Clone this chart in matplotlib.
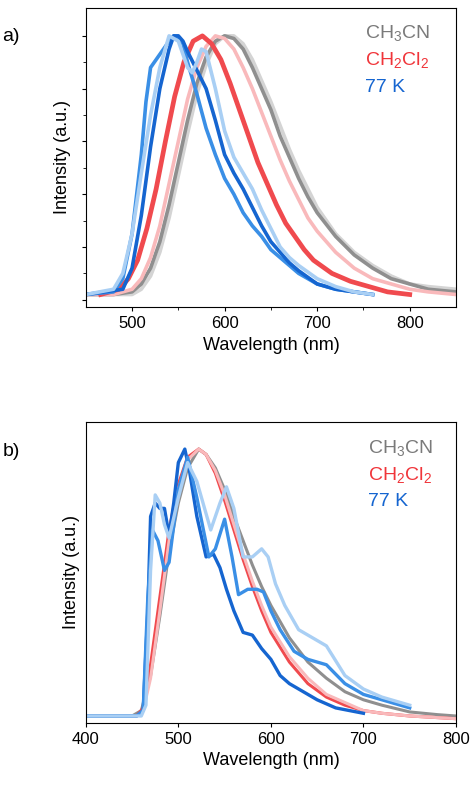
import matplotlib
matplotlib.use("Agg")
import matplotlib.pyplot as plt
plt.rcParams['font.family'] = ['Liberation Sans', 'DejaVu Sans']
plt.rcParams['mathtext.fontset'] = 'custom'
plt.rcParams['mathtext.rm'] = 'Liberation Sans'
plt.rcParams['mathtext.it'] = 'Liberation Sans'

# ---------- panel a data ----------
a_gray_x = [450,480,500,510,520,530,540,550,560,570,580,590,600,610,620,630,640,650,660,670,680,690,700,720,740,760,780,800,820,850]
a_gray_y = [0.02,0.02,0.03,0.06,0.12,0.22,0.36,0.52,0.68,0.82,0.92,0.98,1.0,0.99,0.95,0.88,0.80,0.72,0.62,0.54,0.46,0.39,0.33,0.24,0.17,0.12,0.08,0.06,0.04,0.03]
a_lgray_x = a_gray_x
a_lgray_y = [0.02,0.02,0.02,0.04,0.09,0.18,0.31,0.47,0.63,0.78,0.89,0.97,1.0,1.0,0.97,0.91,0.83,0.75,0.66,0.57,0.49,0.42,0.35,0.25,0.18,0.13,0.09,0.06,0.05,0.04]
a_pink_x = [450,480,500,510,520,530,540,550,560,570,580,590,600,610,620,630,640,650,660,670,680,690,700,720,740,760,780,800,820,850]
a_pink_y = [0.02,0.02,0.04,0.08,0.16,0.28,0.44,0.60,0.76,0.88,0.96,1.0,0.99,0.95,0.88,0.80,0.71,0.62,0.53,0.45,0.38,0.31,0.26,0.18,0.12,0.08,0.06,0.04,0.03,0.02]
a_red_x = [466,486,496,506,516,526,536,546,556,566,576,586,596,606,616,626,636,646,656,666,676,686,696,716,736,756,776,800]
a_red_y = [0.02,0.04,0.08,0.15,0.27,0.42,0.60,0.77,0.90,0.98,1.0,0.97,0.91,0.82,0.72,0.62,0.52,0.44,0.36,0.29,0.24,0.19,0.15,0.10,0.07,0.05,0.03,0.02]
a_blue_x = [450,480,490,500,510,515,520,530,540,545,550,555,560,570,580,590,600,610,620,630,640,650,660,670,680,700,720,740,760]
a_blue_y = [0.02,0.03,0.08,0.25,0.55,0.75,0.88,0.93,0.98,1.0,0.99,0.97,0.90,0.78,0.65,0.55,0.46,0.40,0.33,0.28,0.24,0.19,0.16,0.13,0.10,0.06,0.04,0.03,0.02]
a_dblue_x = [450,490,500,510,520,530,540,545,550,555,560,570,580,590,600,610,620,630,640,650,660,670,680,700,720,740,760]
a_dblue_y = [0.02,0.04,0.12,0.32,0.58,0.80,0.95,1.0,1.0,0.98,0.94,0.87,0.80,0.68,0.55,0.48,0.42,0.35,0.28,0.22,0.18,0.14,0.11,0.06,0.04,0.03,0.02]
a_lblue_x = [450,480,490,500,510,520,530,540,550,560,565,570,575,580,590,600,610,620,630,640,650,660,670,680,700,720,740,760]
a_lblue_y = [0.02,0.04,0.10,0.25,0.48,0.70,0.88,1.0,0.98,0.88,0.86,0.90,0.95,0.94,0.80,0.64,0.54,0.48,0.42,0.34,0.27,0.20,0.16,0.13,0.08,0.05,0.03,0.02]

# ---------- panel b data ----------
b_gray_x = [400,450,460,470,480,490,500,510,522,530,540,550,560,570,580,590,600,620,640,660,680,700,720,750,780,800]
b_gray_y = [0.01,0.01,0.03,0.16,0.38,0.62,0.80,0.93,1.0,0.98,0.93,0.85,0.75,0.66,0.57,0.49,0.42,0.30,0.21,0.15,0.10,0.07,0.05,0.025,0.015,0.01]
b_red_x = [400,455,462,470,480,490,500,510,522,530,540,550,560,570,580,590,600,620,640,660,680,700,720,750,800]
b_red_y = [0.01,0.01,0.04,0.20,0.45,0.70,0.87,0.97,1.0,0.98,0.91,0.81,0.70,0.59,0.49,0.40,0.32,0.21,0.13,0.08,0.05,0.03,0.02,0.01,0.0]
b_pink_x = b_red_x
b_pink_y = [0.01,0.01,0.03,0.15,0.40,0.66,0.85,0.96,1.0,0.98,0.92,0.83,0.72,0.61,0.51,0.42,0.34,0.23,0.15,0.09,0.06,0.03,0.02,0.01,0.0]
b_dblue_x = [400,455,462,467,470,475,480,485,490,495,500,507,512,520,530,538,545,552,560,570,580,590,600,610,620,635,650,670,700]
b_dblue_y = [0.01,0.01,0.03,0.40,0.75,0.80,0.78,0.78,0.68,0.80,0.95,1.0,0.92,0.75,0.60,0.61,0.56,0.48,0.40,0.32,0.31,0.26,0.22,0.16,0.13,0.10,0.07,0.04,0.02]
b_blue_x = [400,455,462,467,472,478,485,490,500,510,520,533,540,550,558,565,575,585,592,600,610,625,640,660,680,700,720,750]
b_blue_y = [0.01,0.01,0.03,0.45,0.70,0.66,0.55,0.58,0.85,0.97,0.82,0.60,0.63,0.74,0.60,0.46,0.48,0.48,0.47,0.40,0.33,0.25,0.22,0.20,0.13,0.09,0.07,0.04]
b_lblue_x = [400,460,465,470,475,480,485,490,500,510,520,535,545,552,560,570,580,590,597,605,615,630,645,660,680,700,720,750]
b_lblue_y = [0.01,0.01,0.05,0.55,0.83,0.80,0.72,0.67,0.82,0.95,0.88,0.70,0.80,0.86,0.78,0.60,0.60,0.63,0.60,0.50,0.42,0.33,0.30,0.27,0.16,0.11,0.08,0.05]

xticks_a = [500, 600, 700, 800]
xticks_b = [400, 500, 600, 700, 800]

GRAY, LGRAY = "#8f8f8f", "#d4d4d4"
RED, PINK = "#f04a4e", "#f9b9bb"
BLUE, DBLUE, LBLUE = "#3a8fe6", "#1565d0", "#a9cff4"

fig = plt.figure(figsize=(4.74, 7.89), dpi=100)
axa = fig.add_axes([0.181, 0.611, 0.781, 0.379])
axb = fig.add_axes([0.181, 0.084, 0.781, 0.381])

lw = 2.6
axa.plot(a_lgray_x, a_lgray_y, color=LGRAY, lw=lw)
axa.plot(a_gray_x, a_gray_y, color=GRAY, lw=lw)
axa.plot(a_pink_x, a_pink_y, color=PINK, lw=lw)
axa.plot(a_red_x, a_red_y, color=RED, lw=lw + 0.8)
axa.plot(a_blue_x, a_blue_y, color=BLUE, lw=lw)
axa.plot(a_dblue_x, a_dblue_y, color=DBLUE, lw=lw)
axa.plot(a_lblue_x, a_lblue_y, color=LBLUE, lw=lw)
axa.set_xlim(450, 850)
axa.set_ylim(-0.027, 1.106)
axa.set_xticks(xticks_a)
axa.set_xticks([550, 650, 750], minor=True)
axa.set_yticks([i * 0.2 for i in range(6)])
axa.set_yticklabels([])
axa.set_yticks([0.1, 0.3, 0.5, 0.7, 0.9], minor=True)

axb.plot(b_gray_x, b_gray_y, color=GRAY, lw=2.2)
axb.plot(b_red_x, b_red_y, color=RED, lw=2.2)
axb.plot(b_pink_x, b_pink_y, color=PINK, lw=2.2)
axb.plot(b_dblue_x, b_dblue_y, color=DBLUE, lw=2.4)
axb.plot(b_blue_x, b_blue_y, color=BLUE, lw=2.4)
axb.plot(b_lblue_x, b_lblue_y, color=LBLUE, lw=2.4)
axb.set_xlim(400, 800)
axb.set_ylim(-0.015, 1.1)
axb.set_xticks(xticks_b)
axb.set_yticks([])

for ax, lx in ((axa, 0.754), (axb, 0.762)):
    ax.tick_params(labelsize=12, direction="out", length=3)
    ax.tick_params(which="minor", length=2)
    ax.set_xlabel("Wavelength (nm)", fontsize=13)
    ax.set_ylabel("Intensity (a.u.)", fontsize=13)
    ax.text(lx, 0.915, r"CH$_3$CN", color="#7a7a7a", fontsize=14, ha="left", va="center", transform=ax.transAxes)
    ax.text(lx, 0.825, r"CH$_2$Cl$_2$", color="#f0353a", fontsize=14, ha="left", va="center", transform=ax.transAxes)
    ax.text(lx, 0.735, "77 K", color="#1565d0", fontsize=14, ha="left", va="center", transform=ax.transAxes)

fig.text(0.005, 0.948, "a)", fontsize=14)
fig.text(0.005, 0.422, "b)", fontsize=14)

fig.savefig("out.png", dpi=100)
